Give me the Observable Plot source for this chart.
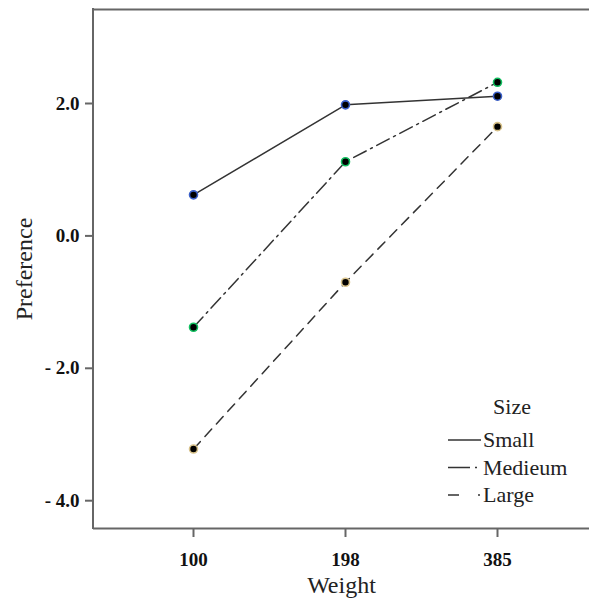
<!DOCTYPE html>
<html><head><meta charset="utf-8">
<script src="https://cdn.jsdelivr.net/npm/d3@7"></script>
<script src="https://cdn.jsdelivr.net/npm/@observablehq/plot@0.6"></script>
<style>
body{margin:0;background:#fff;}
#wrap{position:relative;width:589px;height:603px;overflow:hidden;}
svg{font-family:"Liberation Serif","Times New Roman",serif;}
#legend{position:absolute;left:440px;top:392px;}
</style></head><body>
<div id="wrap"></div>
<script>
const weights = ["100", "198", "385"];
const sizes = ["Small", "Medieum", "Large"];
const small = [0.62, 1.98, 2.11];
const medium = [-1.38, 1.12, 2.32];
const large = [-3.22, -0.70, 1.65];
const yTicks = [2, 0, -2, -4];
const haloColors = ["#3a5fc8", "#12c060", "#d8c28a"];
const dashes = [null, "14,5,2,5", "10,7"];
const legendDashes = [null, "22,5,2,20", "11,19,2,20"];

const seriesVals = [small, medium, large];
const data = [];
sizes.forEach((s, i) => weights.forEach((w, j) => data.push({size: s, weight: w, pref: seriesVals[i][j]})));

const fmt = d => d < 0 ? "- " + Math.abs(d).toFixed(1) : d.toFixed(1);
const lineMarks = sizes.map((s, i) => Plot.line(data.filter(d => d.size === s), {
  x: "weight", y: "pref", stroke: "#333", strokeWidth: 1.5, strokeDasharray: dashes[i]
}));
const dotMarks = sizes.map((s, i) => Plot.dot(data.filter(d => d.size === s), {
  x: "weight", y: "pref", r: 4, fill: "#000", stroke: haloColors[i], strokeWidth: 1.6
}));
const yMin = -4.42, yMax = 3.42;

const chart = Plot.plot({
  width: 589, height: 603,
  marginLeft: 93, marginRight: 0, marginTop: 9, marginBottom: 75,
  x: {type: "point", domain: weights, range: [193, 497], padding: 0},
  y: {domain: [yMin, yMax]},
  marks: [
    Plot.ruleY([yMin, yMax], {stroke: "#666", strokeWidth: 2}),
    Plot.axisY({ticks: yTicks, tickFormat: fmt, tickSize: 8, tickPadding: 6, fontSize: 19, fontWeight: "bold", fill: "#111", stroke: "#666", strokeWidth: 2, label: null}),
    Plot.axisX({tickSize: 9, tickPadding: 15, fontSize: 19, fontWeight: "bold", fill: "#111", stroke: "#666", strokeWidth: 2, label: null}),
    Plot.text(["Preference"], {frameAnchor: "left", textAnchor: "middle", lineAnchor: "middle", dx: -69, rotate: -90, fontSize: 24, fill: "#222"}),
    Plot.text(["Weight"], {frameAnchor: "bottom", textAnchor: "middle", lineAnchor: "middle", dy: 57, fontSize: 24, fill: "#222"}),
    ...lineMarks,
    ...dotMarks
  ]
});
document.getElementById("wrap").appendChild(chart);
// ensure tick label size
d3.select(chart).selectAll('g[aria-label$="tick label"]').attr("font-size", 19).style("font-size", "19px")
  .selectAll("text").style("font-size", "19px").style("font-weight", "bold");
// left frame line
d3.select(chart).append("line").attr("x1", 93).attr("x2", 93).attr("y1", 8).attr("y2", 529)
  .attr("stroke", "#666").attr("stroke-width", 2);

// legend
const leg = d3.select("#wrap").append("svg").attr("id", "legend").attr("width", 149).attr("height", 120)
  .style("font-family", '"Liberation Serif","Times New Roman",serif');
leg.append("text").attr("x", 72).attr("y", 22).attr("text-anchor", "middle").attr("font-size", 22).attr("fill", "#222").text("Size");
sizes.forEach((s, i) => {
  const y = 48 + i * 27.5;
  leg.append("line").attr("x1", 8).attr("x2", 41).attr("y1", y).attr("y2", y)
    .attr("stroke", "#333").attr("stroke-width", 1.5).attr("stroke-dasharray", legendDashes[i]);
  leg.append("text").attr("x", 43).attr("y", y + 7).attr("font-size", 22).attr("fill", "#222").text(s);
});
</script>
</body></html>
